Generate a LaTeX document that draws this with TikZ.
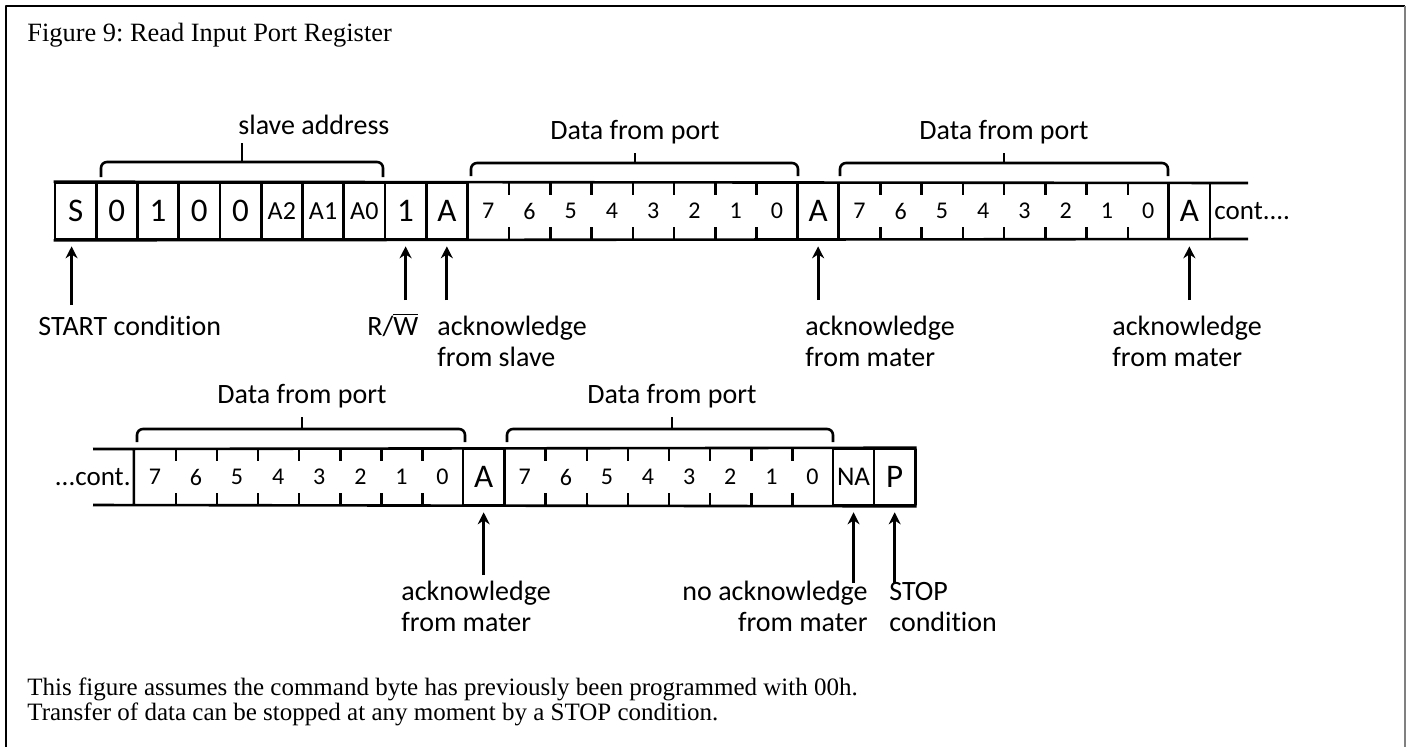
\documentclass[tikz,border=0pt]{standalone}
\usepackage{fontspec}
\setmainfont{Liberation Serif}
\newfontfamily\calib[Ligatures=NoCommon]{Carlito}
\usetikzlibrary{arrows.meta}
\frenchspacing

\tikzset{
  cell/.style={draw, line width=1.3pt, minimum width=20.6pt, minimum height=28pt, inner sep=0pt, font=\calib\fontsize{16.5}{17}\selectfont},
  bit/.style={minimum width=20.6pt, minimum height=28pt, inner sep=0pt, font=\calib\fontsize{12}{12}\selectfont},
  lbl/.style={align=left, inner sep=0pt, font=\calib\fontsize{14}{15.5}\selectfont},
  brk/.style={line width=1.3pt, rounded corners=3pt},
  arr/.style={-{Stealth[length=6pt,width=6pt]}, line width=1.5pt},
}
\newcommand\sm[1]{{\fontsize{13}{13}\selectfont #1}}

\begin{document}
\begin{tikzpicture}[line join=round, x=0.5pt, y=-0.5pt]
\useasboundingbox (0,0) rectangle (1406,746);
\draw[line width=1pt] (6,750) |- (1405,6);
\draw[gray, line width=1pt] (1405,6) -- (1405,750);
\node[anchor=base west, inner sep=0pt, font=\fontsize{13.2}{15}\selectfont] (title) at (27,41) {Figure 9: Read Input Port Register};

% first row
\foreach \t [count=\i from 0] in {S,0,1,0,0,\sm{A2},\sm{A1},\sm{A0},1,A}
  \node[cell] (a\i) at (75.6+41.25*\i,211) {\t};
\node[cell] (ack1) at (75.6+41.25*18,211) {A};
\node[cell] (ack2) at (75.6+41.25*27,211) {A};
\foreach \g/\n in {d/10,e/19}
  \foreach \b [count=\i from 0] in {7,6,...,0}
    \node[bit] (\g\i) at (75.6+41.25*\n+41.25*\i,211) {\b};
\draw[line width=1.3pt] (a0.north west) -- (1248,183) (a0.south west) -- (1248,239);
\node[lbl, anchor=west, font=\calib\fontsize{13.5}{14}\selectfont] (cont1) at (1214,211) {cont....};

% second row
\node[lbl, anchor=east, font=\calib\fontsize{13.5}{14}\selectfont] (cont2) at (131,477) {...cont.};
\foreach \b [count=\i from 0] in {7,6,...,0}
  \node[bit] (f\i) at (154.85+41.1*\i,477) {\b};
\node[cell] (ack3) at (154.85+41.1*8,477) {A};
\foreach \b [count=\i from 0] in {7,6,...,0}
  \node[bit] (g\i) at (154.85+41.1*9+41.1*\i,477) {\b};
\node[cell, font=\calib\fontsize{13.5}{14}\selectfont] (na) at (154.85+41.1*17,477) {NA};
\node[cell] (stop) at (154.85+41.1*18,477) {P};
\draw[line width=1.3pt] (93,449) -- (stop.north east) (93,505) -- (stop.south east)
  (f0.north west) -- (f0.south west);

% ticks between the data bits
\foreach \g in {d,e,f,g}
  \foreach \i in {0,...,6}
    \draw[line width=1.3pt] (\g\i.north east) -- ++(0,12) (\g\i.south east) -- ++(0,-12);

% braces
\draw[brk] (101,177) -- (101,162) -- (383,162) -- (383,177);
\draw[line width=1.3pt] (242,162) -- (242,143);
\node[lbl, anchor=base west] (slv) at (238,134) {slave address};
\draw[brk] (471,176) -- (471,163) -- (798,163) -- (798,176);
\draw[line width=1.3pt] (635,163) -- (635,153);
\node[lbl, anchor=base] (port1) at (635,139) {Data from port};
\draw[brk] (840,176) -- (840,163) -- (1168,163) -- (1168,176);
\draw[line width=1.3pt] (1004,163) -- (1004,153);
\node[lbl, anchor=base] (port2) at (1004,139) {Data from port};
\draw[brk] (137,442) -- (137,429) -- (465,429) -- (465,442);
\draw[line width=1.3pt] (302,429) -- (302,417);
\node[lbl, anchor=base] (port3) at (302,403) {Data from port};
\draw[brk] (507,442) -- (507,429) -- (833,429) -- (833,442);
\draw[line width=1.3pt] (672,429) -- (672,417);
\node[lbl, anchor=base] (port4) at (672,403) {Data from port};

% arrows and their labels
\draw[arr] ([xshift=-2pt]a0.south |- 0,305) -- ([xshift=-2pt,yshift=-3pt]a0.south);
\draw[arr] (a8 |- 0,300) -- ([yshift=-3pt]a8.south);
\draw[arr] (a9 |- 0,300) -- ([yshift=-3pt]a9.south);
\draw[arr] (ack1 |- 0,300) -- ([yshift=-3pt]ack1.south);
\draw[arr] (ack2 |- 0,300) -- ([yshift=-3pt]ack2.south);
\draw[arr] (ack3 |- 0,575) -- ([yshift=-3pt]ack3.south);
\draw[arr] (na |- 0,583) -- ([yshift=-3pt]na.south);
\draw[arr] (stop |- 0,583) -- ([yshift=-3pt]stop.south);
\node[lbl, anchor=base west] (lstart) at (38,335) {START condition};
\node[lbl, anchor=base west] (lrw) at (367,335) {R/$\overline{\hbox{W}}$};
\node[lbl, anchor=base west] (lslave) at (437,366) {acknowledge\\from slave};
\node[lbl, anchor=base west] (lmst1) at (805,366) {acknowledge\\from mater};
\node[lbl, anchor=base west] (lmst2) at (1112,366) {acknowledge\\from mater};
\node[lbl, anchor=base west] (lmst3) at (401,631) {acknowledge\\from mater};
\node[lbl, anchor=base east, align=right] (lna) at (868,631) {no acknowledge\\from mater};
\node[lbl, anchor=base west] (lstop) at (889,631) {STOP\\condition};

\node[anchor=base west, align=left, inner sep=0pt, font=\fontsize{12.5}{12.5}\selectfont] (note) at (27,720)
  {This figure assumes the command byte has previously been programmed with 00h.\\
   Transfer of data can be stopped at any moment by a STOP condition.};
\end{tikzpicture}
\end{document}
